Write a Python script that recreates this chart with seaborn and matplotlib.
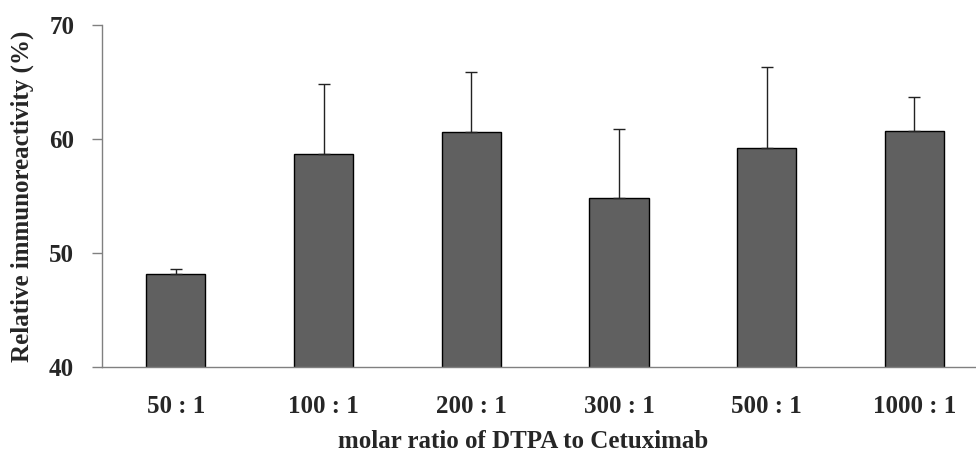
import matplotlib
matplotlib.use("Agg")
import matplotlib.pyplot as plt
import seaborn as sns
import pandas as pd
import numpy as np

categories = ["50 : 1", "100 : 1", "200 : 1", "300 : 1", "500 : 1", "1000 : 1"]
values = [48.2, 58.65, 60.6, 54.8, 59.2, 60.7]
errors = [0.4, 6.2, 5.3, 6.1, 7.1, 3.0]
yticks = [40, 50, 60, 70]

sns.set_theme(style="white")
plt.rcParams['font.family'] = ['Liberation Serif', 'DejaVu Serif']
plt.rcParams['font.weight'] = 'bold'

fig = plt.figure(figsize=(9.76, 4.55), dpi=100)
ax = fig.add_axes([0.1045, 0.1934, 0.8945, 0.7516])

df = pd.DataFrame({"ratio": categories, "value": values})
sns.barplot(data=df, x="ratio", y="value", color="#606060", width=0.4,
            edgecolor="black", linewidth=1.0, saturation=1, errorbar=None, ax=ax)

ax.errorbar(np.arange(len(categories)), values,
            yerr=[np.zeros(len(errors)), errors], fmt="none",
            ecolor="#222222", elinewidth=1.0, capsize=4, capthick=1.0)

ax.set_ylim(40, 70)
ax.set_xlim(-0.5, 5.41)
ax.set_yticks(yticks)
ax.set_yticklabels([str(t) for t in yticks], fontsize=18, fontweight='bold')
ax.set_xticks(range(len(categories)))
ax.set_xticklabels(categories, fontsize=18, fontweight='bold')
ax.tick_params(axis='y', which='major', direction='out', length=7, width=1,
               color='#808080', left=True, pad=13)
ax.tick_params(axis='x', length=0, pad=20)

ax.set_ylabel("Relative immunoreactivity (%)", fontsize=18, fontweight='bold', labelpad=11)
ax.set_xlabel("molar ratio of DTPA to Cetuximab", fontsize=18, fontweight='bold')
ax.xaxis.set_label_coords(0.482, -0.185)

for s in ['top', 'right']:
    ax.spines[s].set_visible(False)
for s in ['left', 'bottom']:
    ax.spines[s].set_color('#808080')
    ax.spines[s].set_linewidth(1.0)

fig.savefig("out.png", dpi=100)
